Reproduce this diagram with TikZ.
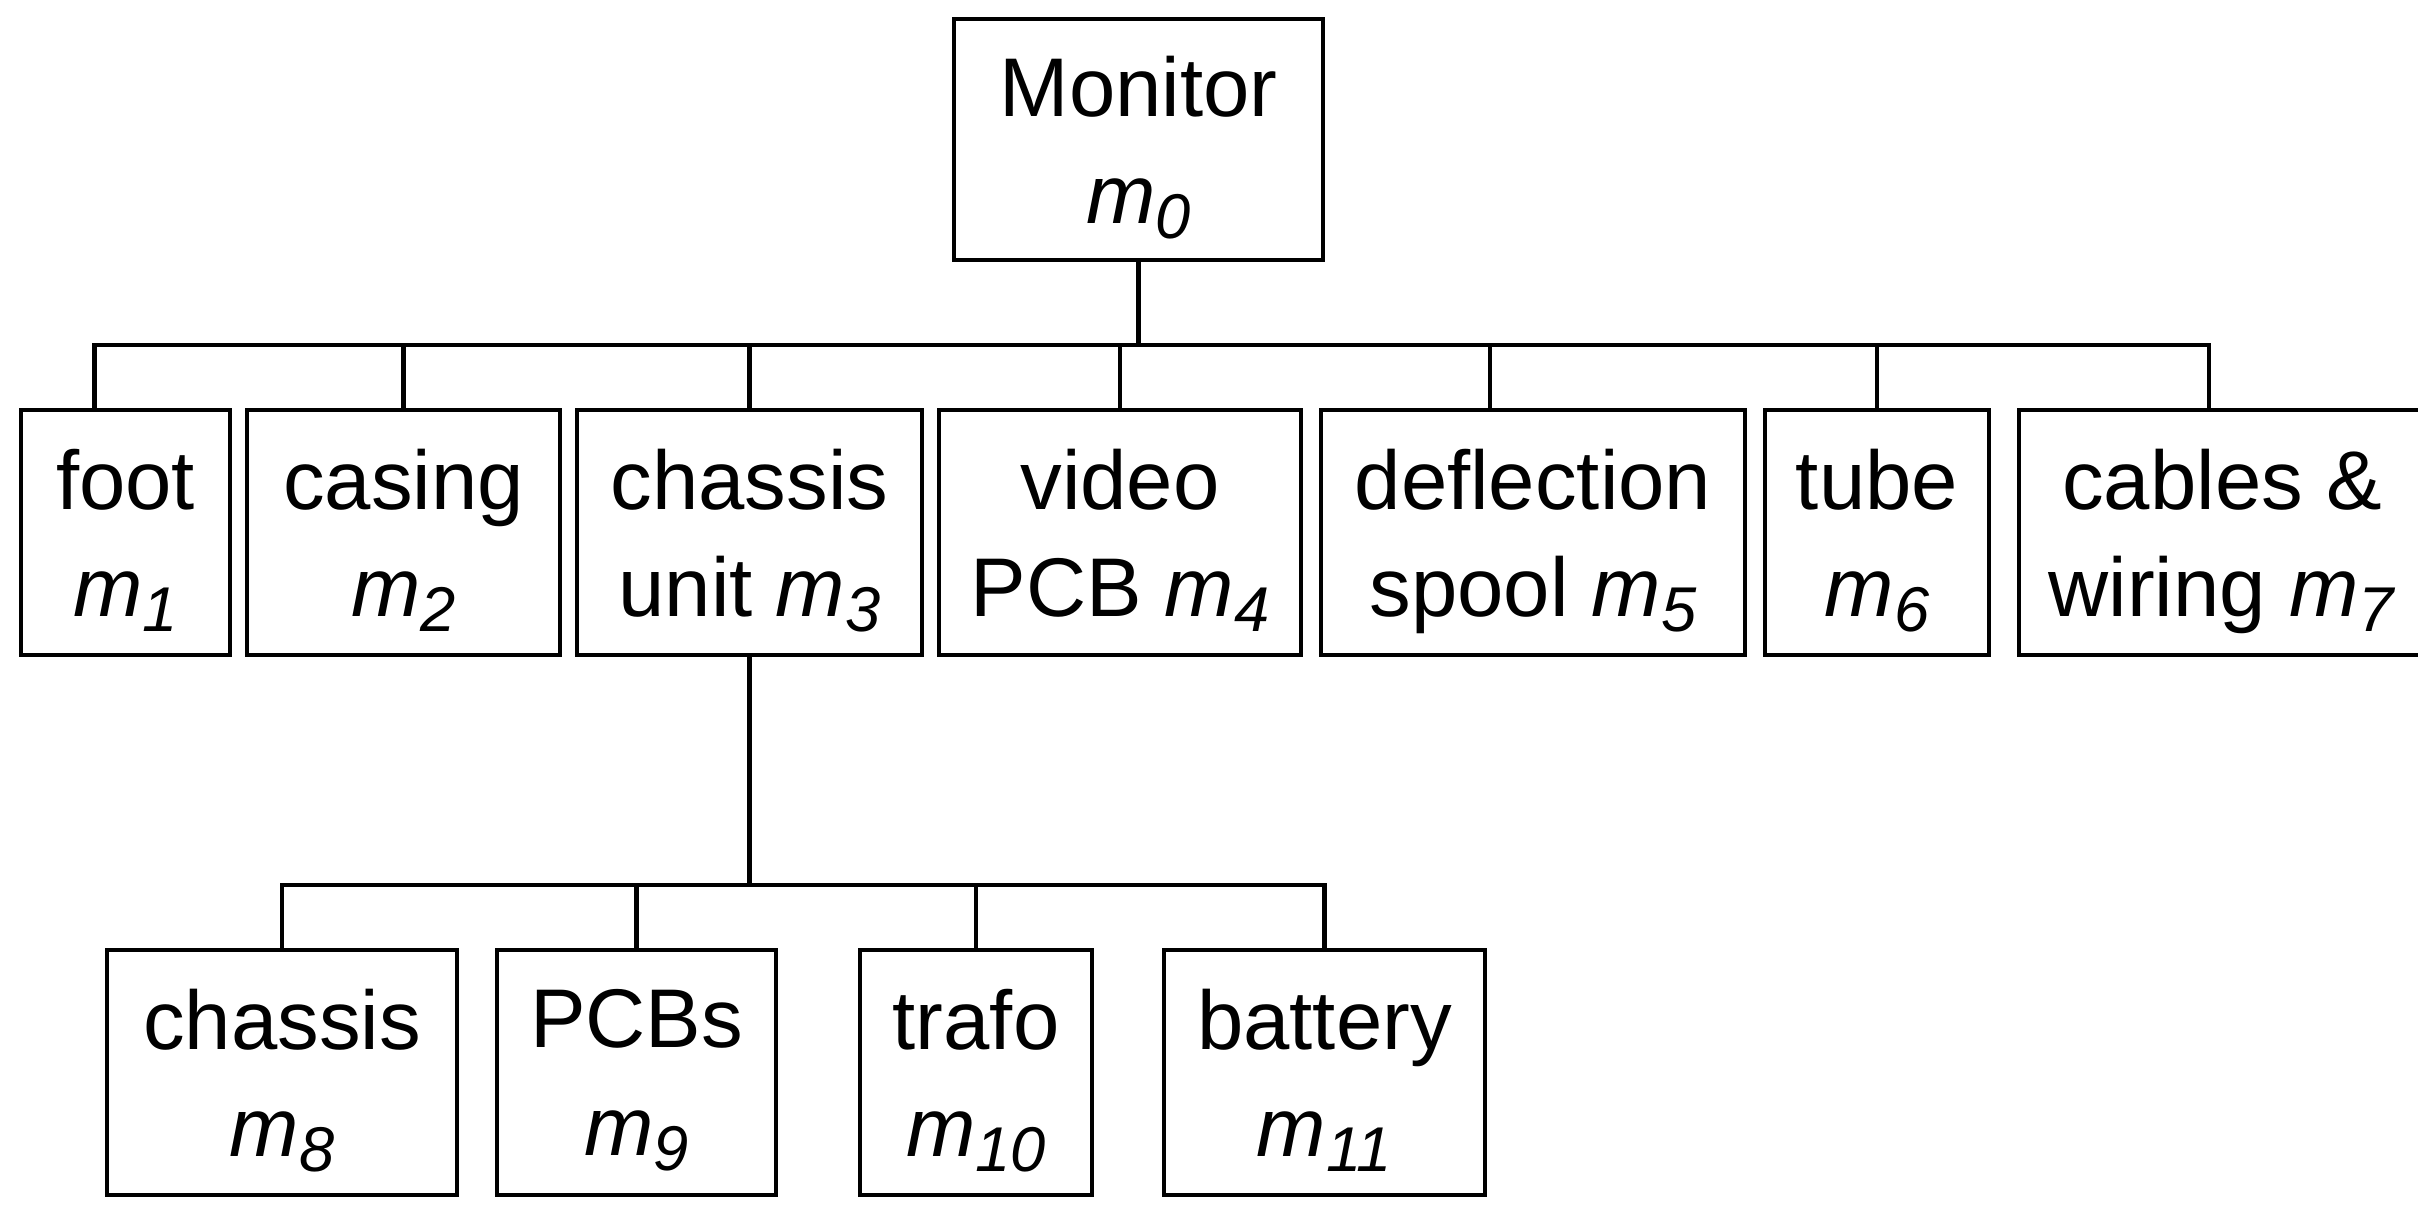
\documentclass[tikz,border=0pt]{standalone}
\usepackage{fontspec}
\setmainfont{Liberation Sans}
\usetikzlibrary{positioning}
\newcommand{\mm}[1]{\textit{m}\raisebox{-4.3pt}[0pt][0pt]{\fontsize{18}{18}\selectfont\textit{#1}}}

\begin{document}
\begin{tikzpicture}[
      font=\fontsize{23.7}{30.5}\selectfont,
      box/.style={draw, line width=1.2pt, outer sep=0pt, minimum height=2.45cm,
                  align=center, inner sep=0.2cm, text depth=0pt},
      con/.style={line width=1.2pt},
    ]
    \useasboundingbox (0,0) rectangle (24.18,-12.07);

    % --- Raiz ---
    \node[box, minimum width=3.69cm, minimum height=2.41cm] (m0) at (11.385,-1.395)
      {Monitor\\\mm{0}};

    % --- Fila 1 ---
    \node[box, minimum width=2.09cm] (m1) at (1.255,-5.325) {foot\\\mm{1}};
    \node[box, minimum width=3.13cm, right=0.17cm of m1] (m2) {casing\\\mm{2}};
    \node[box, minimum width=3.45cm, right=0.17cm of m2] (m3) {chassis\\unit \mm{3}};
    \node[box, minimum width=3.62cm, right=0.17cm of m3] (m4) {video\\PCB \mm{4}};
    \node[box, minimum width=4.24cm, right=0.2cm of m4]  (m5) {deflection\\spool \mm{5}};
    \node[box, minimum width=2.24cm, right=0.2cm of m5]  (m6) {tube\\\mm{6}};
    \node[box, minimum width=4.06cm, right=0.3cm of m6]  (m7) {cables \&\\wiring \mm{7}};

    % --- Fila 2 ---
    \node[box, minimum width=3.5cm] (m8) at (2.82,-10.725) {chassis\\\mm{8}};
    \node[box, minimum width=2.79cm, right=0.4cm of m8]   (m9)  {PCBs\\\mm{9}};
    \node[box, minimum width=2.32cm, right=0.84cm of m9]  (m10) {trafo\\\mm{10}};
    \node[box, minimum width=3.21cm, right=0.72cm of m10] (m11) {battery\\\mm{11}};

    % --- Conexiones ---
    \coordinate (b1) at (0,-3.45);
    \coordinate (b2) at (0,-8.85);
    \draw[con] (m0.south) -- (m0.south |- b1);
    \draw[con] ([xshift=-0.31cm]m1.north) |- ([xshift=-0.13cm]b1 -| m7.north)
      -- ([xshift=-0.13cm]m7.north);
    \foreach \n in {m2,m3,m4,m6}
      \draw[con] (\n.north) -- (\n.north |- b1);
    \draw[con] ([xshift=-0.43cm]m5.north) -- ([xshift=-0.43cm]m5.north |- b1);

    \draw[con] (m3.south) -- (m3.south |- b2);
    \draw[con] (m8.north) |- (b2 -| m11.north) -- (m11.north);
    \foreach \n in {m9,m10}
      \draw[con] (\n.north) -- (\n.north |- b2);
\end{tikzpicture}
\end{document}
